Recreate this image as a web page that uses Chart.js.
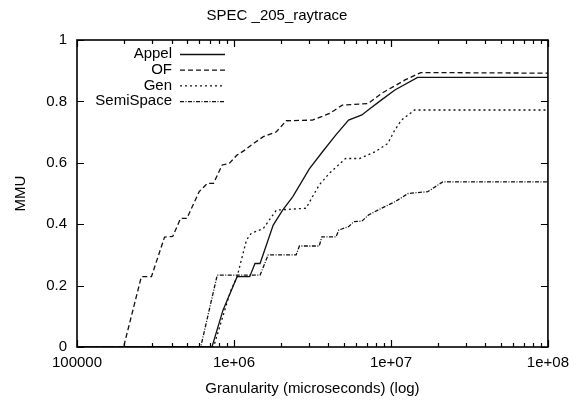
<!DOCTYPE html>
<html>
<head>
<meta charset="utf-8">
<script src="https://cdn.jsdelivr.net/npm/chart.js@4/dist/chart.umd.min.js"></script>
<style>
html,body{margin:0;padding:0;background:#fff;}
#wrap{width:576px;height:403px;}
</style>
</head>
<body>
<div id="wrap"><canvas id="c" width="576" height="403"></canvas></div>
<script>
const chartTitle = 'SPEC _205_raytrace';
const xTitle = 'Granularity (microseconds) (log)';
const yTitle = 'MMU';
const xTickValues = [1e5, 1e6, 1e7, 1e8];
const xTickLabels = ['100000', '1e+06', '1e+07', '1e+08'];
const yTickLabels = ['0', '0.2', '0.4', '0.6', '0.8', '1'];
const seriesNames = ['Appel', 'OF', 'Gen', 'SemiSpace'];

const appelX = [1e5, 7.24e5, 8.51e5, 1.047e6, 1.259e6, 1.361e6, 1.466e6, 1.778e6, 2.042e6, 2.371e6, 3.02e6, 3.664e6, 4.446e6, 5.37e6, 6.53e6, 7.16e6, 8.71e6, 1.059e7, 1.479e7, 1e8];
const appelY = [0, 0, 0.12, 0.229, 0.229, 0.272, 0.272, 0.397, 0.446, 0.49, 0.58, 0.636, 0.69, 0.739, 0.756, 0.772, 0.805, 0.837, 0.878, 0.878];

const ofX = [1e5, 1.98e5, 2.57e5, 2.98e5, 3.61e5, 4.07e5, 4.57e5, 5.01e5, 6.0e5, 6.76e5, 7.41e5, 8.41e5, 9.33e5, 1.045e6, 1.178e6, 1.33e6, 1.538e6, 1.862e6, 2.153e6, 3.162e6, 3.846e6, 4.07e6, 4.9e6, 7.16e6, 8.71e6, 1.23e7, 1.549e7, 1e8];
const ofY = [0, 0, 0.229, 0.229, 0.358, 0.36, 0.419, 0.419, 0.506, 0.533, 0.533, 0.593, 0.598, 0.625, 0.642, 0.663, 0.685, 0.701, 0.737, 0.739, 0.756, 0.761, 0.788, 0.793, 0.826, 0.87, 0.894, 0.892];

const genX = [1e5, 7.41e5, 9.48e5, 1.047e6, 1.202e6, 1.288e6, 1.538e6, 1.862e6, 2.877e6, 3.491e6, 4.036e6, 5.14e6, 6.31e6, 7.94e6, 9.55e6, 1.059e7, 1.167e7, 1.413e7, 1e8];
const genY = [0, 0, 0.18, 0.229, 0.349, 0.37, 0.386, 0.446, 0.452, 0.528, 0.565, 0.614, 0.614, 0.636, 0.663, 0.707, 0.739, 0.772, 0.772];

const semiX = [1e5, 6.14e5, 7.82e5, 1.466e6, 1.652e6, 2.489e6, 2.612e6, 3.491e6, 3.631e6, 4.467e6, 4.656e6, 5.37e6, 5.79e6, 6.53e6, 7.19e6, 8.71e6, 1.059e7, 1.288e7, 1.718e7, 2.138e7, 1e8];
const semiY = [0, 0, 0.234, 0.234, 0.30, 0.30, 0.329, 0.329, 0.359, 0.359, 0.381, 0.392, 0.408, 0.41, 0.43, 0.452, 0.473, 0.5, 0.506, 0.538, 0.538];

const FONT = '"Liberation Sans", Arial, Helvetica, sans-serif';
const pts = (xs, ys) => xs.map((x, i) => ({x: x, y: ys[i]}));

const datasets = [
  {label: seriesNames[0], data: pts(appelX, appelY), borderDash: []},
  {label: seriesNames[1], data: pts(ofX, ofY), borderDash: [5, 3]},
  {label: seriesNames[2], data: pts(genX, genY), borderDash: [2, 3]},
  {label: seriesNames[3], data: pts(semiX, semiY), borderDash: [4, 1.5, 1, 1.5]}
].map(d => Object.assign(d, {borderColor: '#111', borderWidth: 1.3, pointRadius: 0, fill: false, tension: 0}));

const framePlugin = {
  id: 'frame',
  afterDraw(chart) {
    const ctx = chart.ctx;
    const a = chart.chartArea;
    const xs = chart.scales.x, ys = chart.scales.y;
    ctx.save();
    ctx.strokeStyle = '#000';
    ctx.lineWidth = 1.6;
    ctx.setLineDash([]);
    ctx.strokeRect(a.left, a.top, a.right - a.left, a.bottom - a.top);
    ctx.lineWidth = 1.2;
    ctx.beginPath();
    for (let i = 0; i < yTickLabels.length; i++) {
      const py = Math.round(ys.getPixelForValue(parseFloat(yTickLabels[i]))) + 0.5;
      ctx.moveTo(a.left, py); ctx.lineTo(a.left + 7, py);
      ctx.moveTo(a.right, py); ctx.lineTo(a.right - 7, py);
    }
    for (let d = 0; d < xTickValues.length; d++) {
      const dec = xTickValues[d];
      const px = Math.round(xs.getPixelForValue(dec)) + 0.5;
      ctx.moveTo(px, a.bottom); ctx.lineTo(px, a.bottom - 7);
      ctx.moveTo(px, a.top); ctx.lineTo(px, a.top + 7);
      if (d < xTickValues.length - 1) {
        for (let m = 2; m <= 9; m++) {
          const qx = Math.round(xs.getPixelForValue(m * dec)) + 0.5;
          ctx.moveTo(qx, a.bottom); ctx.lineTo(qx, a.bottom - 4);
          ctx.moveTo(qx, a.top); ctx.lineTo(qx, a.top + 4);
        }
      }
    }
    ctx.stroke();
    ctx.font = '15px ' + FONT;
    ctx.fillStyle = '#000';
    ctx.textAlign = 'right';
    ctx.textBaseline = 'middle';
    const rowY = [54, 69.7, 85.4, 101.1];
    chart.data.datasets.forEach((ds, i) => {
      const y = rowY[i];
      ctx.fillText(ds.label, 172, y);
      ctx.beginPath();
      ctx.setLineDash(ds.borderDash);
      ctx.lineWidth = 1.3;
      ctx.strokeStyle = '#111';
      ctx.moveTo(180, y + 0.5);
      ctx.lineTo(225, y + 0.5);
      ctx.stroke();
    });
    ctx.restore();
  }
};

new Chart(document.getElementById('c'), {
  type: 'line',
  data: {datasets: datasets},
  options: {
    responsive: false,
    animation: false,
    layout: {padding: {left: 0, right: 22, top: 0, bottom: 0}},
    plugins: {
      legend: {display: false},
      tooltip: {enabled: false},
      title: {
        display: true,
        text: chartTitle,
        color: '#000',
        font: {family: FONT, size: 15, weight: 'normal'},
        padding: {top: 7, bottom: 15}
      }
    },
    scales: {
      x: {
        type: 'logarithmic',
        min: 1e5,
        max: 1e8,
        afterBuildTicks(scale) { scale.ticks = xTickValues.map(v => ({value: v})); },
        afterFit(scale) { scale.height = 56; },
        grid: {display: false, drawTicks: false},
        border: {display: false},
        ticks: {
          autoSkip: false,
          maxRotation: 0,
          padding: 7,
          color: '#000',
          font: {family: FONT, size: 15},
          callback(v) { const i = xTickValues.indexOf(v); return i >= 0 ? xTickLabels[i] : ''; }
        },
        title: {
          display: true,
          text: xTitle,
          color: '#000',
          font: {family: FONT, size: 15},
          padding: {top: 0, bottom: 5}
        }
      },
      y: {
        type: 'linear',
        min: 0,
        max: 1,
        afterBuildTicks(scale) { scale.ticks = yTickLabels.map(s => ({value: parseFloat(s)})); },
        afterFit(scale) { scale.width = 77; },
        grid: {display: false, drawTicks: false},
        border: {display: false},
        ticks: {
          padding: 10,
          color: '#000',
          font: {family: FONT, size: 15},
          callback(v) { const i = yTickLabels.findIndex(s => Math.abs(parseFloat(s) - v) < 1e-9); return i >= 0 ? yTickLabels[i] : ''; }
        },
        title: {
          display: true,
          text: yTitle,
          color: '#000',
          font: {family: FONT, size: 15},
          padding: {top: 12, bottom: 0}
        }
      }
    }
  },
  plugins: [framePlugin]
});
</script>
</body>
</html>
